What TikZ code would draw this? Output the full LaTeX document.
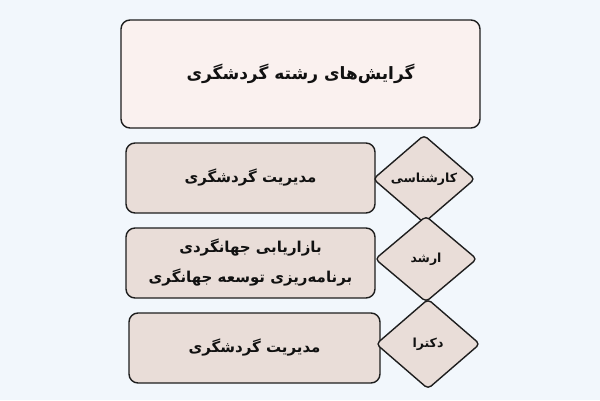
\documentclass[tikz,border=0pt]{standalone}
\usepackage{fontspec}
\usetikzlibrary{shapes.geometric}
\TeXXeTstate=1
\newfontfamily\fa[Script=Arabic]{DejaVu Sans}
\definecolor{bg}{HTML}{F2F7FC}
\definecolor{titlefill}{HTML}{FAF1EF}
\definecolor{boxfill}{HTML}{E9DDD8}
\definecolor{edge}{HTML}{1E1E1E}
\definecolor{ink}{HTML}{111111}
\tikzset{
  titlebox/.style={draw=edge, fill=titlefill, line width=1.4pt, rounded corners=9pt,
    minimum width=359pt, minimum height=108pt, inner sep=0pt, text=ink,
    font=\fa\bfseries\fontsize{17}{20}\selectfont},
  fieldbox/.style={draw=edge, fill=boxfill, line width=1.4pt, rounded corners=9pt,
    minimum height=70pt, inner sep=0pt, text=ink, align=center,
    font=\fa\bfseries\fontsize{15}{32}\selectfont},
  degree/.style={diamond, draw=edge, fill=boxfill, line width=1.4pt, rounded corners=4pt,
    inner sep=0pt, text=ink, font=\fa\bfseries\fontsize{12.5}{14}\selectfont}
}
\begin{document}
\begin{tikzpicture}[x=1pt,y=-1pt]
\fill[bg] (0,0) rectangle (600,400);
\useasboundingbox (0,0) rectangle (600,400);
\node[titlebox] (title) at (300.5,74) {\raisebox{-3pt}{\beginR گرایش^^^^200cهای رشته گردشگری\endR}};
\node[fieldbox, minimum width=249pt] (b1) at (250.5,178) {\beginR مدیریت گردشگری\endR};
\node[fieldbox, minimum width=249pt] (b2) at (250.5,263) {\beginR بازاریابی جهانگردی\endR\\[-2pt]\beginR برنامه^^^^200cریزی توسعه جهانگری\endR};
\node[fieldbox, minimum width=251pt] (b3) at (254.5,348) {\beginR مدیریت گردشگری\endR};
\node[degree, minimum width=102pt, minimum height=88pt] (d1) at (424,179) {\beginR کارشناسی\endR};
\node[degree, minimum width=102pt, minimum height=86pt] (d2) at (426,259) {\beginR ارشد\endR};
\node[degree, minimum width=104pt, minimum height=90pt] (d3) at (428,344) {\beginR دکترا\endR};
\end{tikzpicture}
\end{document}
